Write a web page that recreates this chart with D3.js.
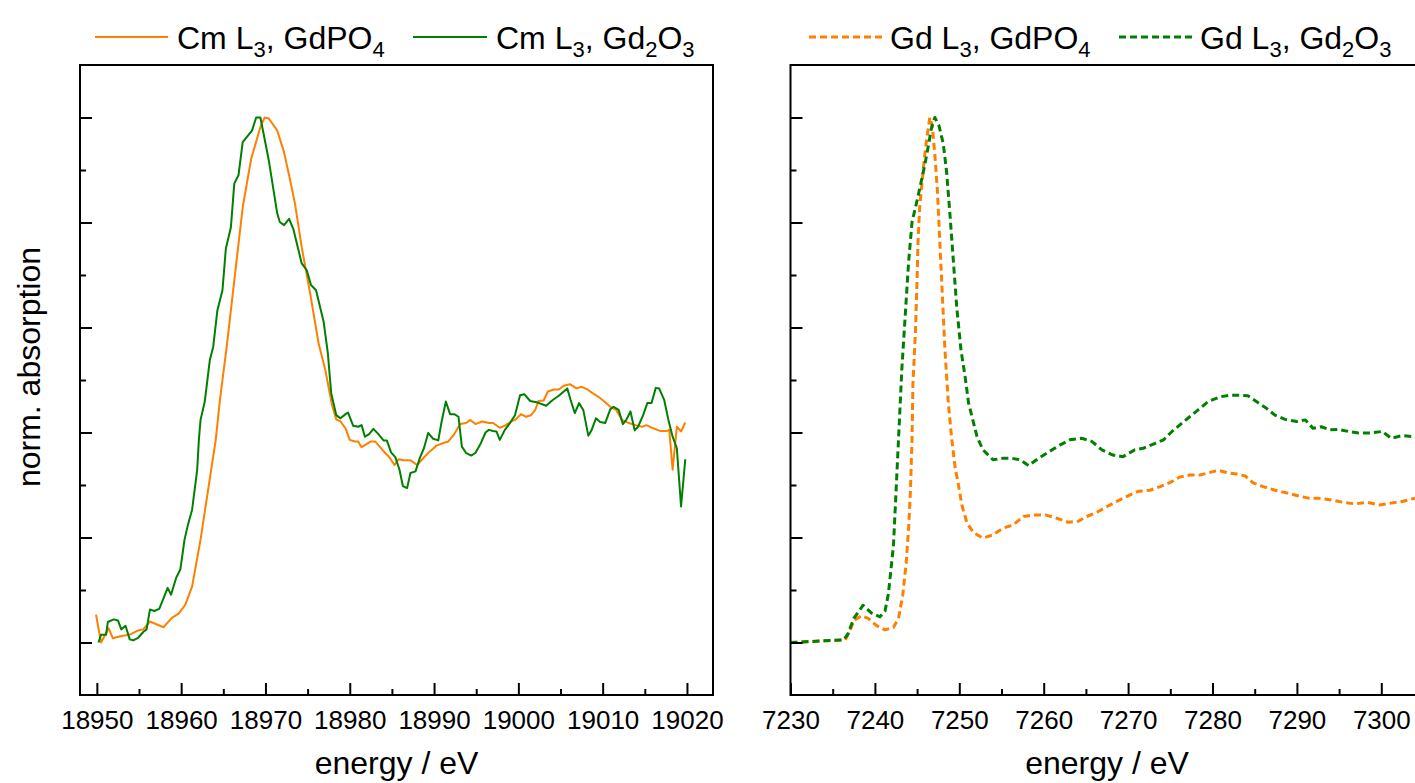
<!DOCTYPE html>
<html>
<head>
<meta charset="utf-8">
<script src="https://cdn.jsdelivr.net/npm/d3@7"></script>
<style>
  body { margin: 0; background: #fff; }
  svg { display: block; font-family: "Liberation Sans", Arial, sans-serif; }
</style>
</head>
<body>
<div id="chart"></div>
<script>
// Cm L3 edge, solid lines  [energy eV, normalised absorption]
const cmGdPO4 = [[18949.9,0.053],[18950.5,0.0],[18951.4,0.027],[18951.9,0.008],[18952.8,0.012],[18953.9,0.015],[18954.9,0.023],[18955.5,0.025],[18956.3,0.040],[18957.9,0.029],[18958.9,0.047],[18959.7,0.055],[18960.5,0.072],[18961.3,0.107],[18962.3,0.196],[18964.1,0.386],[18964.6,0.462],[18965.4,0.563],[18966.4,0.703],[18967.3,0.829],[18968.3,0.921],[18969.4,0.982],[18969.9,1.0],[18970.4,0.998],[18971.4,0.975],[18972.2,0.934],[18972.9,0.883],[18973.5,0.836],[18974.3,0.753],[18975.3,0.665],[18976.3,0.570],[18977.1,0.519],[18977.9,0.452],[18978.4,0.425],[18978.9,0.421],[18979.5,0.408],[18980.0,0.386],[18980.6,0.383],[18981.0,0.383],[18981.4,0.372],[18982.0,0.378],[18982.5,0.383],[18983.0,0.383],[18983.6,0.372],[18984.2,0.361],[18984.7,0.353],[18985.3,0.338],[18985.8,0.349],[18986.4,0.347],[18987.2,0.347],[18988.0,0.338],[18988.7,0.351],[18989.5,0.364],[18990.3,0.375],[18991.1,0.380],[18991.7,0.383],[18992.4,0.397],[18993.1,0.416],[18993.8,0.418],[18994.3,0.424],[18994.9,0.416],[18995.7,0.421],[18996.5,0.418],[18997.0,0.418],[18997.8,0.409],[18998.4,0.413],[18999.2,0.421],[18999.7,0.425],[19000.3,0.435],[19000.9,0.430],[19001.5,0.433],[19002.0,0.443],[19002.4,0.460],[19003.0,0.461],[19003.5,0.478],[19004.2,0.482],[19004.8,0.482],[19005.4,0.489],[19006.1,0.492],[19006.9,0.484],[19007.5,0.487],[19008.2,0.482],[19008.8,0.475],[19009.5,0.468],[19010.2,0.459],[19010.9,0.449],[19011.6,0.443],[19012.3,0.424],[19013.1,0.418],[19013.9,0.414],[19014.7,0.411],[19015.2,0.414],[19016.0,0.408],[19016.8,0.403],[19017.6,0.403],[19017.9,0.405],[19018.3,0.329],[19018.8,0.411],[19019.3,0.402],[19019.8,0.419]];

const cmGd2O3 = [[18950.2,0.0],[18950.5,0.015],[18951.1,0.015],[18951.3,0.039],[18952.0,0.044],[18952.5,0.042],[18952.9,0.025],[18953.4,0.032],[18953.9,0.006],[18954.3,0.004],[18954.9,0.009],[18955.5,0.020],[18955.9,0.025],[18956.3,0.063],[18956.8,0.060],[18957.4,0.064],[18958.0,0.088],[18958.4,0.104],[18958.8,0.091],[18959.4,0.123],[18959.9,0.139],[18960.4,0.196],[18960.8,0.224],[18961.3,0.253],[18961.9,0.329],[18962.1,0.386],[18962.3,0.424],[18962.8,0.459],[18963.4,0.538],[18963.8,0.563],[18964.3,0.633],[18964.9,0.671],[18965.3,0.750],[18965.9,0.791],[18966.3,0.874],[18966.8,0.890],[18967.3,0.953],[18968.4,0.975],[18968.9,1.0],[18969.4,1.0],[18970.4,0.918],[18971.4,0.817],[18971.7,0.801],[18972.2,0.795],[18972.8,0.807],[18973.3,0.788],[18974.3,0.722],[18974.9,0.709],[18975.4,0.681],[18976.0,0.671],[18976.9,0.611],[18977.4,0.551],[18977.8,0.475],[18978.4,0.433],[18978.9,0.427],[18979.5,0.435],[18979.8,0.438],[18980.4,0.413],[18981.0,0.411],[18981.4,0.414],[18981.8,0.392],[18982.3,0.397],[18982.8,0.407],[18983.4,0.397],[18984.0,0.385],[18984.4,0.385],[18984.9,0.362],[18985.4,0.353],[18985.9,0.329],[18986.3,0.298],[18986.8,0.294],[18987.2,0.323],[18987.8,0.326],[18988.3,0.351],[18988.8,0.370],[18989.3,0.399],[18989.9,0.388],[18990.5,0.385],[18990.9,0.421],[18991.4,0.459],[18991.9,0.435],[18992.4,0.435],[18992.9,0.430],[18993.3,0.373],[18993.8,0.361],[18994.4,0.356],[18994.9,0.361],[18995.5,0.378],[18996.1,0.400],[18996.5,0.405],[18997.0,0.403],[18997.4,0.402],[18997.8,0.386],[18998.4,0.405],[18999.0,0.418],[18999.6,0.433],[19000.2,0.471],[19000.7,0.473],[19001.4,0.460],[19002.3,0.457],[19003.3,0.451],[19004.0,0.461],[19004.8,0.470],[19005.8,0.484],[19006.2,0.462],[19006.7,0.437],[19007.2,0.456],[19007.7,0.443],[19008.3,0.394],[19008.7,0.405],[19009.2,0.427],[19009.7,0.420],[19010.3,0.418],[19010.9,0.444],[19011.3,0.449],[19011.9,0.443],[19012.4,0.416],[19012.8,0.424],[19013.3,0.440],[19013.8,0.404],[19014.2,0.411],[19014.8,0.433],[19015.3,0.456],[19015.8,0.456],[19016.3,0.485],[19016.7,0.484],[19017.3,0.462],[19017.8,0.424],[19018.3,0.392],[19018.8,0.370],[19019.3,0.259],[19019.8,0.349]];

// Gd L3 edge, dashed lines
const gdGdPO4 = [[7230.0,0],[7236.5,0.005],[7237.0,0.022],[7237.6,0.043],[7238.4,0.051],[7239.2,0.046],[7240.2,0.032],[7241.2,0.024],[7242.2,0.029],[7242.8,0.046],[7243.3,0.090],[7243.7,0.151],[7244.0,0.219],[7244.2,0.286],[7244.4,0.388],[7244.5,0.490],[7244.8,0.591],[7245.0,0.693],[7245.1,0.760],[7245.3,0.828],[7245.7,0.896],[7246.0,0.943],[7246.3,0.977],[7246.5,1.0],[7246.8,0.984],[7247.1,0.930],[7247.4,0.862],[7247.7,0.760],[7248.0,0.659],[7248.3,0.557],[7248.7,0.456],[7249.1,0.388],[7249.5,0.334],[7249.9,0.300],[7250.3,0.262],[7250.9,0.228],[7251.7,0.209],[7252.8,0.199],[7254.0,0.205],[7255.2,0.218],[7256.4,0.224],[7257.6,0.240],[7258.8,0.243],[7260.2,0.243],[7261.5,0.237],[7262.9,0.229],[7264.1,0.231],[7265.1,0.240],[7266.3,0.248],[7267.5,0.259],[7268.7,0.269],[7269.8,0.278],[7271.2,0.288],[7272.6,0.290],[7273.8,0.297],[7275.0,0.305],[7276.1,0.315],[7277.3,0.319],[7278.5,0.319],[7279.7,0.324],[7280.7,0.328],[7281.9,0.323],[7282.9,0.321],[7283.9,0.317],[7284.8,0.304],[7286.0,0.297],[7287.4,0.290],[7288.8,0.285],[7290.2,0.279],[7291.4,0.275],[7292.5,0.275],[7293.9,0.272],[7295.5,0.267],[7296.9,0.264],[7298.3,0.267],[7299.8,0.262],[7301.4,0.266],[7302.6,0.269],[7304.0,0.275]];

const gdGd2O3 = [[7230.0,0],[7236.3,0.005],[7236.8,0.016],[7237.5,0.046],[7238.6,0.071],[7239.6,0.056],[7240.6,0.049],[7241.2,0.060],[7241.6,0.093],[7242.2,0.185],[7242.6,0.320],[7242.9,0.422],[7243.2,0.523],[7243.6,0.625],[7244.0,0.726],[7244.4,0.801],[7245.0,0.842],[7245.5,0.879],[7245.9,0.909],[7246.3,0.943],[7246.7,0.980],[7247.1,1.0],[7247.6,0.984],[7248.1,0.950],[7248.5,0.896],[7248.9,0.814],[7249.3,0.726],[7249.7,0.638],[7250.2,0.557],[7250.7,0.505],[7251.1,0.456],[7252.1,0.392],[7252.8,0.367],[7254.0,0.348],[7255.2,0.351],[7256.2,0.351],[7257.2,0.348],[7258.2,0.337],[7259.4,0.351],[7260.7,0.364],[7261.9,0.376],[7263.1,0.386],[7264.5,0.389],[7265.7,0.383],[7266.9,0.367],[7268.2,0.357],[7269.4,0.354],[7270.8,0.367],[7271.8,0.370],[7273.0,0.378],[7274.2,0.386],[7275.2,0.402],[7276.4,0.418],[7277.3,0.430],[7278.3,0.443],[7279.5,0.459],[7280.9,0.468],[7282.1,0.471],[7283.3,0.471],[7284.2,0.470],[7285.2,0.459],[7286.4,0.446],[7287.4,0.433],[7288.6,0.425],[7290.0,0.421],[7291.0,0.424],[7291.9,0.408],[7292.9,0.411],[7293.9,0.405],[7294.9,0.406],[7296.1,0.402],[7297.3,0.399],[7298.7,0.399],[7300.1,0.402],[7301.2,0.389],[7302.4,0.394],[7304.0,0.392]];

const cmTicks = [18950, 18960, 18970, 18980, 18990, 19000, 19010, 19020];
const gdTicks = [7230, 7240, 7250, 7260, 7270, 7280, 7290, 7300];
const yTicks = [0, 0.2, 0.4, 0.6, 0.8, 1.0];

// legend labels: [text, subscript]
const legendLeft = [
    {parts: [["Cm L", false], ["3", true], [", GdPO", false], ["4", true]], color: "#ff8000", dash: null},
    {parts: [["Cm L", false], ["3", true], [", Gd", false], ["2", true], ["O", false], ["3", true]], color: "#008000", dash: null}
];
const legendRight = [
    {parts: [["Gd L", false], ["3", true], [", GdPO", false], ["4", true]], color: "#ff8000", dash: "7,4"},
    {parts: [["Gd L", false], ["3", true], [", Gd", false], ["2", true], ["O", false], ["3", true]], color: "#008000", dash: "7,4"}
];

const W = 1415, H = 783;
const svg = d3.select("#chart").append("svg")
    .attr("width", W)
    .attr("height", H);

const plotTop = 65, plotH = 630, plotW = 633;
const y = d3.scaleLinear().domain([-0.1, 1.1]).range([plotTop + plotH, plotTop]);

function drawPanel(id, left, xDomain, majors, series) {
    const x = d3.scaleLinear().domain(xDomain).range([left, left + plotW]);
    const g = svg.append("g").attr("class", "panel");

    g.append("clipPath").attr("id", "clip-" + id)
        .append("rect")
        .attr("x", left).attr("y", plotTop)
        .attr("width", plotW).attr("height", plotH);

    const line = d3.line().x(d => x(d[0])).y(d => y(d[1]));

    g.append("g").attr("clip-path", "url(#clip-" + id + ")")
        .selectAll("path")
        .data(series)
        .enter().append("path")
        .attr("d", d => line(d.values))
        .attr("fill", "none")
        .attr("stroke", d => d.color)
        .attr("stroke-width", d => d.dash ? 3 : 2)
        .attr("stroke-dasharray", d => d.dash)
        .attr("stroke-linejoin", "round");

    const minors = majors.map(d => d + 5).filter(d => d < xDomain[1]);

    // bottom axis, ticks pointing inward
    const xAxis = g.append("g")
        .attr("transform", "translate(0," + (plotTop + plotH) + ")")
        .call(d3.axisBottom(x).tickValues(majors).tickSize(-12).tickSizeOuter(0).tickPadding(16).tickFormat(d3.format("d")));
    xAxis.select(".domain").remove();
    xAxis.selectAll("text")
        .attr("font-size", 26)
        .attr("font-family", "'Liberation Sans', Arial, sans-serif")
        .attr("fill", "#000");

    const xMinor = g.append("g")
        .attr("transform", "translate(0," + (plotTop + plotH) + ")")
        .call(d3.axisBottom(x).tickValues(minors).tickSize(-6).tickSizeOuter(0).tickFormat(""));
    xMinor.select(".domain").remove();

    const yAxis = g.append("g")
        .attr("transform", "translate(" + left + ",0)")
        .call(d3.axisLeft(y).tickValues(yTicks).tickSize(-12).tickSizeOuter(0).tickFormat(""));
    yAxis.select(".domain").remove();

    const yMinor = g.append("g")
        .attr("transform", "translate(" + left + ",0)")
        .call(d3.axisLeft(y).tickValues(yTicks.slice(1).map(d => d - 0.1)).tickSize(-6).tickSizeOuter(0).tickFormat(""));
    yMinor.select(".domain").remove();

    g.selectAll(".tick line").attr("stroke", "#000").attr("stroke-width", 2);

    g.append("rect")
        .attr("x", left).attr("y", plotTop)
        .attr("width", plotW).attr("height", plotH)
        .attr("fill", "none")
        .attr("stroke", "#000")
        .attr("stroke-width", 2);

    g.append("text")
        .attr("x", left + plotW / 2)
        .attr("y", 774)
        .attr("text-anchor", "middle")
        .attr("font-size", 32)
        .text("energy / eV");

    return x;
}

drawPanel("cm", 80, [18948.0, 18948.0 + plotW / 8.43], cmTicks, [
    {values: cmGdPO4, color: "#ff8000", dash: null},
    {values: cmGd2O3, color: "#008000", dash: null}
]);

drawPanel("gd", 790.5, [7230, 7230 + plotW / 8.44], gdTicks, [
    {values: gdGdPO4, color: "#ff8000", dash: "7,4"},
    {values: gdGd2O3, color: "#008000", dash: "7,4"}
]);

svg.append("text")
    .attr("transform", "translate(40," + 367 + ") rotate(-90)")
    .attr("text-anchor", "middle")
    .attr("font-size", 32)
    .text("norm. absorption");

function drawLegend(items, positions) {
    items.forEach((item, i) => {
        const p = positions[i];
        svg.append("line")
            .attr("x1", p.x1).attr("x2", p.x2)
            .attr("y1", 37).attr("y2", 37)
            .attr("stroke", item.color)
            .attr("stroke-width", item.dash ? 3 : 2)
            .attr("stroke-dasharray", item.dash);
        const t = svg.append("text")
            .attr("x", p.tx).attr("y", 49)
            .attr("font-size", 32);
        let shifted = false;
        item.parts.forEach(part => {
            const span = t.append("tspan").text(part[0]);
            if (part[1] && !shifted) { span.attr("dy", 8).attr("font-size", 22); shifted = true; }
            else if (part[1]) { span.attr("font-size", 22); }
            else if (shifted) { span.attr("dy", -8); shifted = false; }
        });
    });
}

drawLegend(legendLeft, [{x1: 95, x2: 168, tx: 177}, {x1: 413, x2: 487, tx: 496}]);
drawLegend(legendRight, [{x1: 809, x2: 882, tx: 890}, {x1: 1119, x2: 1192, tx: 1200}]);
</script>
</body>
</html>
